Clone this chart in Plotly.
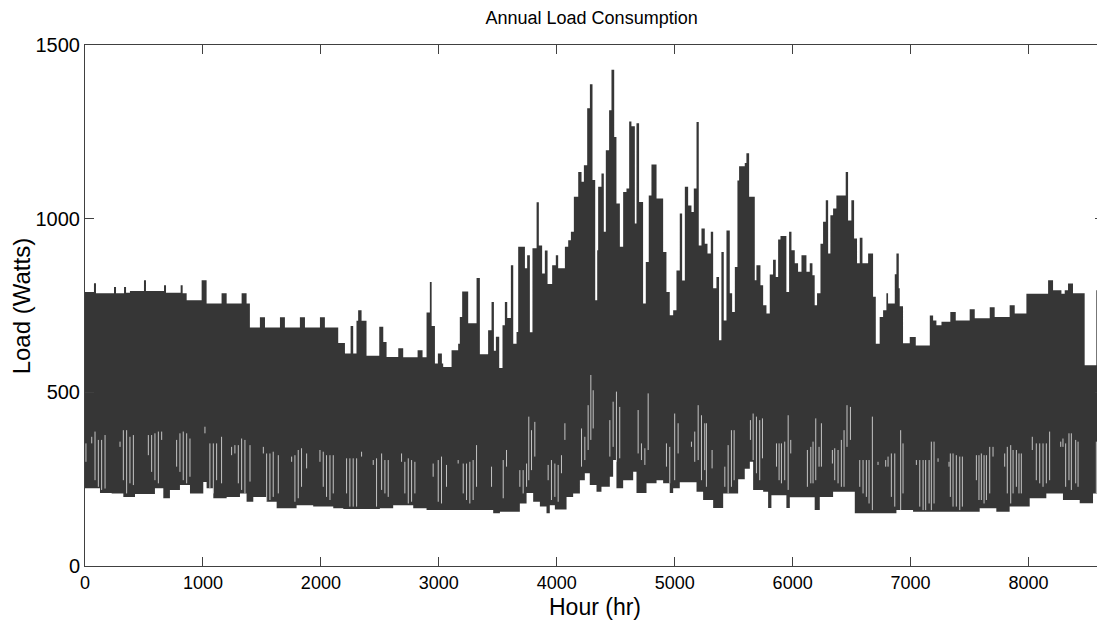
import plotly.graph_objects as go

# ---- data (hour breakpoints of daily max / min envelopes) ----
top_hours = [0, 76, 93, 246, 263, 331, 348, 381, 500, 517, 670, 687, 811, 828, 862, 989, 1031, 1158, 1201,
             1328, 1370, 1398, 1483, 1526, 1653, 1695, 1822, 1865, 1992, 2034, 2147, 2204, 2252, 2274, 2302,
             2316, 2345, 2387, 2495, 2529, 2557, 2656, 2698, 2820, 2862, 2896, 2924, 2939, 2967, 2992, 3026,
             3037, 3108, 3164, 3178, 3198, 3249, 3320, 3348, 3418, 3447, 3467, 3484, 3512, 3540, 3560, 3580,
             3611, 3631, 3659, 3673, 3730, 3749, 3772, 3794, 3829, 3848, 3876, 3899, 3922, 3961, 3992, 4012,
             4069, 4097, 4120, 4145, 4182, 4210, 4230, 4258, 4281, 4303, 4326, 4343, 4351, 4379, 4399, 4416,
             4444, 4464, 4487, 4506, 4535, 4563, 4591, 4614, 4633, 4662, 4676, 4698, 4732, 4755, 4780, 4803,
             4846, 4902, 4930, 4958, 4987, 5015, 5043, 5063, 5086, 5114, 5142, 5162, 5185, 5204, 5227, 5255,
             5278, 5306, 5326, 5354, 5376, 5396, 5416, 5439, 5467, 5487, 5510, 5532, 5546, 5594, 5608, 5631,
             5679, 5693, 5727, 5750, 5778, 5806, 5834, 5857, 5877, 5897, 5947, 5970, 5990, 6018, 6046, 6075,
             6117, 6145, 6168, 6187, 6207, 6236, 6258, 6281, 6301, 6320, 6343, 6371, 6450, 6470, 6498, 6521,
             6546, 6569, 6592, 6640, 6682, 6705, 6738, 6767, 6795, 6809, 6866, 6880, 6900, 6908, 6936, 6993,
             7044, 7163, 7191, 7219, 7262, 7337, 7383, 7501, 7544, 7671, 7713, 7840, 7883, 7982, 8166, 8208,
             8279, 8307, 8335, 8377, 8476, 8575, 8603, 8640]
top_load = [789, 814, 785, 803, 785, 803, 787, 792, 823, 792, 808, 787, 808, 785, 765, 823, 756, 785, 756,
            785, 756, 687, 716, 687, 716, 687, 716, 687, 716, 687, 642, 612, 691, 612, 706,
            736, 706, 605, 689, 645, 602, 627, 601, 621, 601, 730, 818, 691, 583, 612, 583,
            573, 621, 640, 717, 790, 699, 829, 610, 679, 760, 620, 660, 570, 693, 760, 714,
            866, 640, 674, 919, 857, 895, 673, 915, 1047, 923, 842, 908, 812, 866, 895, 857,
            919, 938, 962, 1063, 1134, 1106, 1154, 1318, 1387, 1111, 765, 909, 1092, 1130, 962, 1197,
            1312, 1429, 1235, 1044, 919, 1077, 1087, 1280, 1266, 986, 1275, 1048, 756, 875, 1067, 1156,
            1058, 904, 789, 722, 736, 851, 1015, 822, 1092, 1038, 1019, 1087, 1278, 923, 972, 928,
            900, 962, 800, 832, 650, 904, 707, 966, 785, 731, 861, 1110, 1151, 1160, 1188, 1063,
            823, 866, 808, 751, 727, 839, 882, 832, 940, 950, 789, 962, 909, 872, 847, 895,
            847, 872, 837, 751, 785, 928, 991, 1053, 900, 1010, 1029, 1067, 1134, 995, 1053, 943,
            872, 945, 872, 900, 775, 640, 717, 736, 785, 756, 840, 900, 800, 748, 641, 659,
            635, 721, 707, 693, 703, 731, 707, 739, 713, 745, 717, 751, 727, 784, 823, 794,
            784, 794, 813, 785, 578, 794, 813, 813]

low_hours = [0, 127, 226, 325, 424, 593, 664, 720, 805, 890, 1003, 1031, 1088, 1201, 1314, 1370, 1427,
             1540, 1625, 1794, 1935, 2105, 2190, 2500, 2613, 2783, 2896, 3461, 3518, 3687, 3744, 3800,
             3857, 3913, 3941, 3984, 4083, 4139, 4196, 4238, 4280, 4337, 4379, 4450, 4478, 4506, 4563,
             4648, 4676, 4761, 4846, 4902, 4958, 4987, 5043, 5185, 5241, 5326, 5411, 5538, 5594, 5637,
             5665, 5750, 5792, 5820, 5947, 5976, 6187, 6230, 6343, 6527, 6880, 7021, 7586, 7727, 7840,
             8010, 8151, 8292, 8434, 8547, 8640]
low_load = [224, 210, 209, 199, 207, 224, 195, 219, 233, 209, 242, 224, 195, 199, 209, 185, 199,
            185, 166, 175, 171, 166, 164, 166, 175, 166, 161, 152, 156, 180, 210, 185,
            171, 152, 175, 163, 199, 209, 247, 267, 233, 214, 228, 257, 305, 224, 247,
            271, 210, 238, 247, 238, 210, 224, 241, 214, 190, 167, 209, 250, 280, 300,
            219, 214, 167, 204, 167, 198, 161, 199, 214, 152, 161, 156, 166, 156, 171,
            195, 209, 190, 181, 209, 209]

# light gaps between the daily strokes in the lower band: hour, low, high
gap_hours = [8, 57, 85, 113, 141, 170, 297, 325, 353, 381, 410, 537, 565, 593, 622, 650, 777, 805, 833, 862,
             890, 1017, 1059, 1088, 1116, 1158, 1243, 1271, 1300, 1328, 1356, 1399, 1512, 1540, 1568, 1596,
             1639, 1752, 1780, 1808, 1836, 1879, 1992, 2020, 2048, 2077, 2105, 2218, 2246, 2274, 2303, 2345,
             2444, 2472, 2515, 2543, 2571, 2684, 2712, 2741, 2769, 2797, 2952, 2995, 3023, 3065, 3164, 3207,
             3235, 3263, 3291, 3320, 3447, 3546, 3574, 3687, 3715, 3744, 3763, 3786, 3814, 3927, 3955, 3984,
             4012, 4040, 4069, 4210, 4238, 4266, 4289, 4309, 4450, 4478, 4506, 4534, 4690, 4718, 4747, 4775,
             4930, 4958, 5000, 5029, 5142, 5170, 5199, 5227, 5255, 5269, 5317, 5425, 5453, 5481, 5504, 5642,
             5665, 5693, 5721, 5744, 5863, 5885, 5905, 5933, 5962, 5984, 6125, 6154, 6173, 6196, 6224, 6244,
             6337, 6357, 6385, 6413, 6436, 6461, 6490, 6569, 6597, 6625, 6648, 6676, 6724, 6789, 6809, 6837,
             6866, 6916, 6936, 7049, 7078, 7106, 7128, 7157, 7176, 7199, 7233, 7326, 7337, 7360, 7388, 7417,
             7439, 7558, 7580, 7600, 7623, 7643, 7671, 7699, 7798, 7820, 7849, 7869, 7897, 7919, 7939, 8032,
             8066, 8095, 8123, 8151, 8179, 8273, 8292, 8315, 8343, 8363, 8400, 8420, 8575, 8603, 8631]
gap_low = [300, 353, 247, 228, 219, 223, 343, 247, 209, 238, 233, 319, 271, 247, 238, 363, 286, 271, 247, 238,
           257, 382, 223, 209, 247, 238, 319, 324, 238, 219, 209, 243, 324, 185, 190, 199,
           209, 300, 185, 195, 228, 281, 300, 228, 199, 190, 209, 209, 171, 171, 171, 315,
           291, 171, 219, 209, 199, 300, 209, 180, 185, 209, 257, 185, 180, 228, 295, 209,
           190, 180, 190, 228, 228, 195, 286, 228, 209, 228, 247, 276, 315, 247, 190, 199,
           185, 267, 363, 286, 305, 334, 363, 396, 315, 343, 300, 310, 324, 305, 291, 334,
           286, 238, 247, 324, 343, 300, 305, 247, 276, 228, 281, 228, 209, 228, 247, 363,
           305, 267, 247, 310, 286, 247, 238, 247, 219, 324, 228, 238, 238, 247, 286, 286,
           295, 247, 238, 228, 228, 343, 363, 228, 209, 199, 180, 161, 291, 286, 286, 199,
           171, 161, 209, 291, 171, 161, 161, 180, 161, 180, 300, 286, 199, 171, 171, 161,
           171, 247, 190, 190, 180, 190, 209, 315, 286, 209, 180, 209, 228, 209, 209, 334,
           247, 238, 228, 238, 247, 343, 343, 228, 247, 219, 238, 228, 209, 214, 209]
gap_high = [353, 372, 387, 363, 363, 377, 358, 391, 391, 372, 377, 377, 377, 382, 387, 387, 363, 382, 387, 382,
            367, 401, 353, 353, 353, 372, 343, 348, 348, 367, 363, 348, 343, 324, 324, 329,
            319, 315, 319, 334, 339, 324, 334, 329, 319, 319, 319, 310, 310, 310, 310, 329,
            305, 310, 324, 305, 305, 324, 300, 310, 305, 300, 295, 305, 315, 291, 305, 295,
            295, 300, 305, 348, 286, 305, 334, 276, 276, 295, 430, 391, 415, 291, 305, 295,
            291, 319, 411, 396, 372, 463, 550, 506, 420, 473, 502, 458, 449, 353, 339, 497,
            353, 343, 439, 411, 358, 387, 463, 434, 411, 411, 334, 286, 348, 391, 391, 420,
            439, 430, 420, 425, 353, 353, 353, 358, 434, 363, 334, 343, 358, 425, 343, 411,
            334, 339, 334, 363, 391, 463, 458, 305, 305, 305, 305, 430, 300, 305, 315, 324,
            324, 391, 353, 305, 305, 305, 305, 305, 358, 358, 310, 300, 324, 324, 319, 315,
            315, 319, 319, 324, 319, 319, 343, 343, 324, 343, 348, 334, 334, 324, 324, 372,
            353, 353, 353, 353, 387, 358, 367, 353, 382, 382, 363, 358, 358, 363, 363]

x_ticks = [0, 1000, 2000, 3000, 4000, 5000, 6000, 7000, 8000]
y_ticks = [0, 500, 1000, 1500]

DARK = "#363636"
FONT = "Liberation Sans, Arial, sans-serif"

fig = go.Figure()
fig.add_trace(go.Scatter(x=top_hours, y=top_load, mode="lines", line=dict(shape="hv", width=0, color=DARK),
                         fill="tozeroy", fillcolor=DARK, hoverinfo="skip", showlegend=False))
fig.add_trace(go.Scatter(x=low_hours, y=low_load, mode="lines", line=dict(shape="hv", width=0, color="white"),
                         fill="tozeroy", fillcolor="white", hoverinfo="skip", showlegend=False))

gx, gy = [], []
for h, lo, hi in zip(gap_hours, gap_low, gap_high):
    gx += [h, h, None]
    gy += [lo, hi, None]
fig.add_trace(go.Scatter(x=gx, y=gy, mode="lines", line=dict(color="#c4c4c4", width=1),
                         hoverinfo="skip", showlegend=False))

axis_common = dict(showline=True, linecolor="#404040", linewidth=1, mirror="allticks", ticks="inside",
                   ticklen=9, tickcolor="#404040", showgrid=False, zeroline=False)
fig.update_xaxes(range=[0, 8640], tickvals=x_ticks, ticktext=[str(v) for v in x_ticks],
                 tickfont=dict(family=FONT, size=18, color="black"), **axis_common)
fig.update_yaxes(range=[0, 1500], tickvals=y_ticks, ticktext=[str(v) for v in y_ticks],
                 tickfont=dict(family=FONT, size=20, color="black"), **axis_common)

# the page body adds an 8px offset, so the figure is sized/positioned to compensate
fig.update_layout(
    width=1097, height=613,
    margin=dict(l=77, r=1, t=37, b=55),
    paper_bgcolor="white", plot_bgcolor="white",
    title=dict(text="Annual Load Consumption", x=0.532, xanchor="center", y=1 - 10 / 613, yanchor="middle",
               font=dict(family=FONT, size=18, color="black")),
    annotations=[
        dict(text="Hour (hr)", xref="paper", yref="paper", x=0.5, y=-0.079, xanchor="center", yanchor="middle",
             showarrow=False, font=dict(family=FONT, size=23, color="black")),
        dict(text="Load (Watts)", xref="paper", yref="paper", x=-0.062, y=0.5, xanchor="center",
             yanchor="middle", textangle=-90, showarrow=False, font=dict(family=FONT, size=24, color="black")),
    ],
)

fig.write_html("out.html")
